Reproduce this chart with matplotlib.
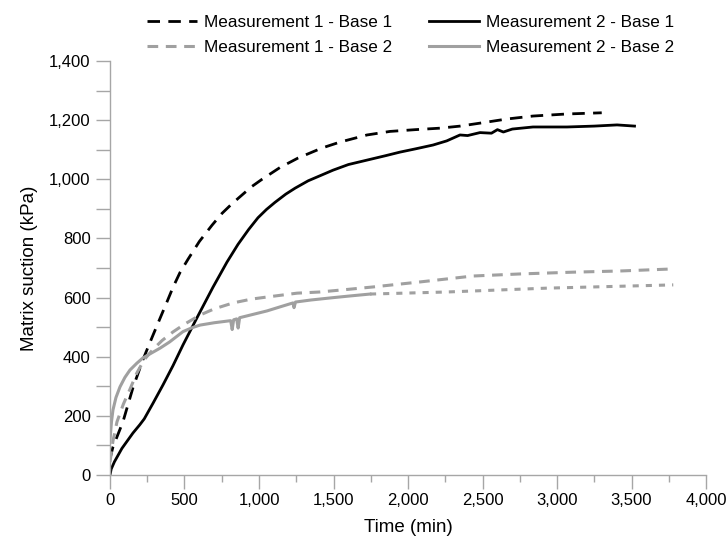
import matplotlib
matplotlib.use("Agg")
import matplotlib.pyplot as plt
from matplotlib.ticker import FuncFormatter, MultipleLocator

plt.rcParams['font.family'] = ['Liberation Sans', 'DejaVu Sans']

# Measurement 1 - Base 1 (black dashed)
m1b1_t = [0, 20, 87, 154, 221, 282, 336, 382, 423, 470, 524, 600, 685, 752, 820, 886, 950,
          1020, 1141, 1262, 1423, 1544, 1725, 1879, 2050, 2215, 2350, 2483, 2664, 2839,
          3067, 3242, 3300]
m1b1_s = [55, 95, 180, 295, 390, 465, 530, 585, 635, 685, 730, 790, 845, 885, 918, 947, 975,
          1000, 1040, 1072, 1106, 1126, 1150, 1162, 1168, 1173, 1180, 1190, 1204, 1214,
          1221, 1224, 1225]

# Measurement 2 - Base 1 (black solid)
m2b1_t = [0, 8, 30, 80, 154, 200, 230, 289, 356, 423, 490, 584, 691, 785, 859, 930, 993,
          1050, 1107, 1180, 1242, 1330, 1423, 1497, 1600, 1725, 1850, 1946, 2050, 2168,
          2260, 2349, 2400, 2483, 2560, 2600, 2640, 2700, 2839, 3067, 3250, 3403, 3520]
m2b1_s = [0, 20, 45, 90, 142, 170, 190, 243, 305, 370, 440, 532, 635, 720, 780, 830, 870,
          898, 922, 950, 970, 995, 1015, 1031, 1050, 1065, 1080, 1092, 1103, 1116,
          1130, 1150, 1148, 1158, 1156, 1168, 1160, 1170, 1177, 1177, 1180, 1184, 1180]

# Measurement 1 - Base 2 (grey dashed)
m1b2_t = [0, 20, 47, 90, 134, 180, 230, 289, 350, 423, 500, 604, 700, 826, 950, 1054, 1255,
          1409, 1600, 1765, 2081, 2436, 2752, 3107, 3423, 3780]
m1b2_s = [44, 115, 180, 240, 290, 345, 390, 425, 455, 484, 510, 541, 562, 582, 595, 602, 615,
          619, 628, 636, 653, 673, 680, 686, 690, 697]

# Measurement 2 - Base 2 (grey solid)
m2b2_t = [0, 10, 20, 40, 67, 100, 134, 180, 221, 280, 336, 400, 490, 550, 604, 700, 810,
          820, 830, 850, 860, 870, 950, 1054, 1150, 1228, 1235, 1245, 1350, 1500, 1620, 1745]
m2b2_s = [118, 180, 220, 262, 298, 330, 355, 378, 396, 413, 429, 450, 485, 498, 507, 515, 522,
          492, 525, 528, 497, 532, 542, 555, 570, 582, 566, 585, 592, 600, 606, 612]

# Measurement 2 - Base 2, continuation (grey short dashes, not in legend)
m2b2_ext_t = [1745, 2262, 2933, 3780]
m2b2_ext_s = [612, 619, 632, 643]

black = '#000000'
grey = '#a0a0a0'
axis_grey = '#a6a6a6'

fig = plt.figure(figsize=(7.26, 5.45), dpi=100)
ax = fig.add_axes([0.1515, 0.1284, 0.821, 0.7596])

ax.plot(m1b1_t, m1b1_s, color=black, lw=2.0, dashes=(4.5, 3), label='Measurement 1 - Base 1')
ax.plot(m2b1_t, m2b1_s, color=black, lw=2.0, label='Measurement 2 - Base 1')
ax.plot(m1b2_t, m1b2_s, color=grey, lw=2.2, dashes=(3.5, 2.5), label='Measurement 1 - Base 2')
ax.plot(m2b2_t, m2b2_s, color=grey, lw=2.2, label='Measurement 2 - Base 2')
ax.plot(m2b2_ext_t, m2b2_ext_s, color=grey, lw=2.2, dashes=(2, 2.3))

ax.set_xlim(0, 4000)
ax.set_ylim(0, 1400)
ax.xaxis.set_major_locator(MultipleLocator(500))
ax.xaxis.set_minor_locator(MultipleLocator(250))
ax.yaxis.set_major_locator(MultipleLocator(200))
ax.yaxis.set_minor_locator(MultipleLocator(100))
fmt = FuncFormatter(lambda v, p: f'{int(v):,}')
ax.xaxis.set_major_formatter(fmt)
ax.yaxis.set_major_formatter(fmt)

for side in ['top', 'right']:
    ax.spines[side].set_visible(False)
for side in ['left', 'bottom']:
    ax.spines[side].set_color(axis_grey)
    ax.spines[side].set_linewidth(1.0)
ax.tick_params(which='both', color=axis_grey, width=1.0, labelsize=12, direction='out')
ax.tick_params(axis='x', which='major', length=10, pad=3)
ax.tick_params(axis='x', which='minor', length=5)
ax.tick_params(axis='y', which='both', length=10, pad=4)

ax.set_xlabel('Time (min)', fontsize=13.5, labelpad=8)
ax.set_ylabel('Matrix suction (kPa)', fontsize=13.5, labelpad=8)

handles, labels = ax.get_legend_handles_labels()
order = [0, 2, 1, 3]
fig.legend([handles[i] for i in order], [labels[i] for i in order], ncol=2, frameon=False,
           loc='center', bbox_to_anchor=(0.5654, 0.936), fontsize=12.3,
           handlelength=2.9, columnspacing=2.2, handletextpad=0.4, labelspacing=0.6)

fig.savefig('out.png', dpi=100)
